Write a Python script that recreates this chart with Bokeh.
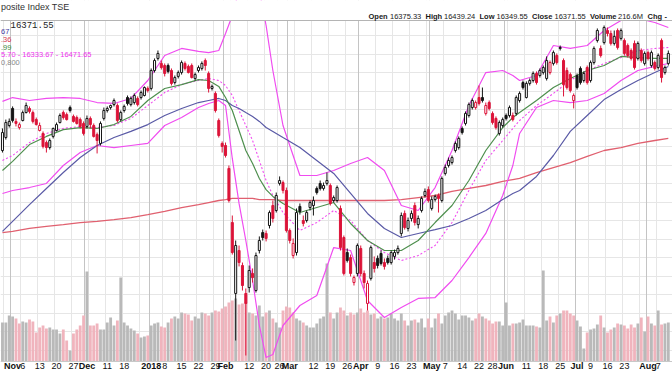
import pandas as pd
from bokeh.plotting import figure
from bokeh.models import Range1d, FixedTicker, Grid, Label, BoxAnnotation, Span
from bokeh.embed import file_html
from bokeh.resources import INLINE

# ---------------- calendar (TSX trading days) ----------------
holidays = ["2017-12-25", "2017-12-26", "2018-01-01", "2018-02-19",
            "2018-03-30", "2018-05-21", "2018-07-02", "2018-08-06"]
trading_days = [d.strftime("%Y-%m-%d") for d in pd.bdate_range("2017-10-27", "2018-08-10")
                if d.strftime("%Y-%m-%d") not in holidays]

# ---------------- daily OHLC ----------------
opens = [
    15880, 15950, 16015,
    16107, 16037, 16004, 16042, 16085, 16107, 16085, 16047, 15988, 15972, 15923, 15896, 15956, 15988, 16031, 16085, 16074, 16112, 16064, 16058, 16047, 16026,
    16010, 16053, 16015, 15966, 15918, 16053, 16096, 16112, 16128, 16123, 16047, 16096, 16166, 16128, 16139, 16161, 16166, 16177, 16215,
    16215, 16312, 16377, 16350, 16339, 16339, 16312, 16247, 16280, 16301, 16350, 16334, 16339, 16269, 16312, 16323, 16366, 16296, 16215, 16188, 16042, 15918,
    15907, 15783, 15491, 15108, 15340, 15259, 15108, 15140, 15216, 15124, 15340, 15437, 15432, 15475, 15583, 15556, 15702, 15707, 15664,
    15448, 15313, 15329, 15578, 15502, 15502, 15572, 15583, 15675, 15702, 15675, 15702, 15691, 15610, 15610, 15567, 15410, 15329, 15302, 15167, 15216,
    15351, 15216, 15054, 15189, 15275, 15297, 15324, 15275, 15297, 15275, 15308, 15329, 15432, 15540, 15459, 15513, 15583, 15480, 15556, 15637, 15669,
    15567, 15615, 15637, 15610, 15756, 15799, 15815, 15880, 15896, 15999, 16026, 16069, 16112, 16112, 16166, 16166, 16080, 16139, 16080, 16053, 15972, 16015,
    16069, 16069, 16069, 16080, 16150, 16247, 16166, 16242, 16258, 16296, 16285, 16301, 16269, 16301, 16350, 16393, 16436, 16366, 16312, 16290, 16150,
    16285, 16323, 16258, 16328, 16258, 16355, 16474, 16431, 16463, 16528, 16512, 16458, 16528, 16485, 16474, 16447, 16420, 16458, 16377, 16420, 16350,
    16409, 16339, 16355, 16328, 16474, 16301, 16350]
highs = [
    15999, 16047, 16053,
    16118, 16053, 16031, 16096, 16139, 16118, 16096, 16058, 16031, 15983, 15934, 15945, 16004, 16031, 16080, 16096, 16085, 16123, 16074, 16069, 16058, 16037,
    16069, 16064, 16026, 15977, 16037, 16112, 16118, 16128, 16161, 16134, 16096, 16128, 16177, 16172, 16188, 16172, 16204, 16226, 16226,
    16323, 16377, 16420, 16366, 16350, 16350, 16323, 16285, 16312, 16366, 16361, 16344, 16350, 16301, 16339, 16361, 16377, 16307, 16236, 16199, 16053, 15929,
    15923, 15799, 15529, 15394, 15367, 15275, 15135, 15259, 15243, 15329, 15416, 15453, 15448, 15556, 15610, 15653, 15740, 15718, 15680,
    15459, 15405, 15567, 15594, 15529, 15556, 15610, 15632, 15686, 15718, 15707, 15761, 15702, 15637, 15691, 15583, 15421, 15351, 15318, 15205, 15378,
    15367, 15232, 15178, 15367, 15308, 15313, 15340, 15297, 15313, 15340, 15345, 15367, 15545, 15556, 15518, 15556, 15599, 15529, 15632, 15675, 15686,
    15632, 15642, 15648, 15740, 15804, 15842, 15853, 15929, 15956, 16010, 16091, 16139, 16161, 16150, 16231, 16220, 16139, 16150, 16091, 16064, 16042, 16058,
    16080, 16123, 16085, 16177, 16199, 16258, 16253, 16269, 16307, 16307, 16323, 16339, 16388, 16366, 16420, 16404, 16447, 16377, 16328, 16301, 16188,
    16296, 16334, 16307, 16339, 16366, 16442, 16539, 16447, 16555, 16544, 16528, 16528, 16539, 16539, 16485, 16458, 16431, 16474, 16469, 16431, 16415,
    16420, 16420, 16366, 16404, 16485, 16339, 16420]
lows = [
    15869, 15939, 16004,
    16031, 16010, 15993, 16037, 16080, 16080, 16026, 16015, 15983, 15891, 15869, 15885, 15945, 15983, 16026, 16047, 16042, 16085, 16031, 16020, 15999, 15961,
    15999, 15999, 15950, 15864, 15907, 16042, 16085, 16101, 16118, 16031, 16037, 16085, 16123, 16118, 16128, 16118, 16155, 16172, 16193,
    16204, 16301, 16366, 16317, 16280, 16296, 16231, 16236, 16269, 16290, 16312, 16296, 16269, 16258, 16301, 16312, 16312, 16193, 16204, 16085, 15950, 15869,
    15842, 15599, 15318, 14854, 15254, 15124, 14773, 15113, 15167, 15113, 15324, 15394, 15389, 15459, 15491, 15545, 15691, 15648, 15437,
    15378, 15297, 15313, 15534, 15470, 15491, 15556, 15529, 15642, 15664, 15664, 15691, 15583, 15599, 15599, 15340, 15205, 15275, 15200, 15151, 15200,
    15200, 15135, 15016, 15178, 15221, 15243, 15259, 15237, 15264, 15264, 15291, 15318, 15416, 15453, 15443, 15497, 15475, 15459, 15545, 15626, 15599,
    15556, 15604, 15545, 15599, 15745, 15788, 15804, 15869, 15885, 15966, 16015, 16058, 16101, 16101, 16123, 16139, 16069, 16096, 16020, 15993, 15961, 16004,
    16042, 16058, 16037, 16069, 16139, 16209, 16161, 16231, 16247, 16236, 16274, 16290, 16258, 16290, 16339, 16344, 16420, 16172, 16209, 16193, 16107,
    16209, 16236, 16247, 16236, 16247, 16344, 16463, 16382, 16452, 16496, 16447, 16447, 16425, 16474, 16393, 16382, 16366, 16317, 16366, 16355, 16339,
    16366, 16328, 16312, 16317, 16247, 16290, 16339]
closes = [
    15977, 16031, 16037,
    16042, 16026, 16020, 16085, 16123, 16091, 16037, 16020, 16015, 15902, 15896, 15934, 15999, 16020, 16069, 16058, 16047, 16096, 16037, 16026, 16010, 15972,
    16053, 16020, 15956, 15934, 16026, 16096, 16107, 16123, 16150, 16042, 16085, 16118, 16134, 16161, 16177, 16128, 16193, 16220, 16204,
    16312, 16366, 16404, 16328, 16296, 16307, 16242, 16274, 16301, 16355, 16323, 16301, 16274, 16290, 16328, 16350, 16339, 16215, 16226, 16096, 15961, 15902,
    15853, 15610, 15329, 15367, 15275, 15151, 15054, 15232, 15194, 15313, 15394, 15410, 15405, 15545, 15513, 15637, 15718, 15664, 15448,
    15394, 15378, 15545, 15551, 15486, 15545, 15599, 15610, 15653, 15675, 15691, 15718, 15594, 15626, 15680, 15356, 15216, 15286, 15216, 15194, 15367,
    15216, 15167, 15162, 15356, 15243, 15259, 15270, 15254, 15275, 15329, 15329, 15351, 15529, 15464, 15502, 15540, 15491, 15513, 15621, 15659, 15610,
    15615, 15632, 15621, 15729, 15788, 15826, 15842, 15918, 15945, 15977, 16080, 16128, 16150, 16139, 16134, 16150, 16123, 16107, 16031, 16004, 16031, 16047,
    16053, 16112, 16047, 16166, 16188, 16220, 16242, 16258, 16296, 16247, 16312, 16328, 16366, 16355, 16409, 16355, 16431, 16236, 16220, 16204, 16177,
    16220, 16247, 16296, 16247, 16355, 16431, 16528, 16393, 16544, 16512, 16458, 16496, 16436, 16528, 16404, 16393, 16377, 16328, 16458, 16366, 16404,
    16377, 16409, 16323, 16393, 16274, 16328, 16404]
volume_m = [
    195, 195, 230,
    225, 215, 190, 200, 195, 210, 200, 145, 170, 180, 165, 170, 160, 160, 140, 160, 105, 55, 140, 160, 180, 230,
    450, 180, 180, 190, 160, 160, 195, 220, 180, 205, 420, 195, 180, 165, 155, 140, 120, 125, 130,
    180, 190, 195, 175, 170, 195, 215, 225, 215, 245, 240, 235, 205, 225, 215, 245, 240, 230, 245, 255, 250, 265,
    275, 295, 305, 315, 285, 290, 295, 245, 240, 230, 280, 225, 245, 255, 215, 195, 170, 255, 275,
    270, 245, 215, 205, 195, 180, 170, 170, 190, 215, 225, 490, 245, 215, 245, 270, 255, 230, 245, 235, 245,
    265, 245, 255, 235, 240, 215, 225, 215, 220, 240, 215, 205, 240, 205, 180, 205, 210, 195, 215, 170, 215,
    170, 215, 240, 190, 230, 245, 255, 240, 210, 230, 230, 220, 205, 215, 240, 225, 215, 205, 190, 200, 200, 180,
    295, 180, 190, 190, 195, 210, 180, 180, 180, 175, 170, 455, 205, 225, 195, 230, 240, 255, 255, 240, 230,
    205, 175, 65, 145, 160, 165, 185, 230, 170, 145, 160, 170, 190, 185, 180, 165, 185, 170, 190, 220, 150,
    225, 190, 180, 255, 185, 190, 195]

# ---------------- overlay indicators (at these dates) ----------------
sample_dates = [
    "2017-10-27",
    "2017-11-01", "2017-11-08", "2017-11-15", "2017-11-22", "2017-11-29", "2017-12-06", "2017-12-13", "2017-12-20",
    "2017-12-29", "2018-01-08", "2018-01-15", "2018-01-22", "2018-01-25", "2018-01-30", "2018-02-01", "2018-02-05",
    "2018-02-07", "2018-02-09", "2018-02-13", "2018-02-15", "2018-02-20", "2018-02-22", "2018-02-27", "2018-03-06",
    "2018-03-13", "2018-03-20", "2018-03-27", "2018-04-04", "2018-04-11", "2018-04-18", "2018-04-25", "2018-05-02",
    "2018-05-09", "2018-05-16", "2018-05-24", "2018-05-31", "2018-06-05", "2018-06-07", "2018-06-14", "2018-06-21",
    "2018-06-28", "2018-07-06", "2018-07-13", "2018-07-20", "2018-07-27", "2018-08-03", "2018-08-10"]
ma200 = [15437,
         15443, 15459, 15470, 15480, 15491, 15497, 15507, 15518, 15534, 15551, 15572, 15588, 15599, 15610, 15615, 15621,
         15621, 15621, 15621, 15615, 15615, 15615, 15610, 15610, 15610, 15610, 15610, 15610, 15610, 15615, 15626, 15637,
         15659, 15675, 15691, 15713, 15723, 15729, 15761, 15788, 15815, 15848, 15880, 15896, 15918, 15934, 15945]
ma50 = [15443,
        15497, 15588, 15675, 15761, 15842, 15907, 15950, 15983, 16020, 16069, 16107, 16139, 16150, 16161, 16150, 16123,
        16107, 16085, 16064, 16037, 16004, 15983, 15950, 15896, 15826, 15756, 15648, 15540, 15459, 15410, 15432, 15453,
        15475, 15513, 15556, 15615, 15648, 15664, 15740, 15853, 15983, 16069, 16155, 16209, 16258, 16301, 16334]
ema20 = [15772,
         15821, 15912, 15956, 15993, 16004, 15999, 16020, 16064, 16150, 16215, 16236, 16263, 16258, 16226, 16166, 16096,
         15988, 15880, 15810, 15729, 15669, 15632, 15594, 15545, 15572, 15599, 15486, 15394, 15340, 15340, 15394, 15491,
         15583, 15718, 15880, 16004, 16058, 16085, 16150, 16220, 16269, 16312, 16339, 16388, 16382, 16377, 16377]
bb_mid = [15826,
          15853, 15923, 15972, 15999, 16010, 16004, 16015, 16053, 16123, 16193, 16236, 16258, 16269, 16258, 16231, 16177,
          16096, 16015, 15934, 15826, 15718, 15637, 15545, 15448, 15491, 15556, 15502, 15394, 15329, 15286, 15313, 15367,
          15491, 15664, 15826, 15934, 15999, 16042, 16123, 16188, 16258, 16312, 16350, 16382, 16420, 16431, 16436]
bb_upper = [16145,
            16166, 16150, 16161, 16166, 16161, 16139, 16134, 16161, 16258, 16393, 16431, 16415, 16409, 16420, 16512, 16609,
            16744, 16852, 16879, 16744, 16555, 16312, 16015, 15745, 15745, 15772, 15810, 15842, 15772, 15583, 15556, 15680,
            15880, 16123, 16301, 16312, 16285, 16258, 16285, 16447, 16431, 16447, 16528, 16582, 16593, 16571, 16544]
bb_lower = [15648,
            15664, 15680, 15702, 15799, 15869, 15907, 15896, 15907, 15918, 16015, 16058, 16112, 16134, 16150, 16123, 15837,
            15594, 15394, 15178, 14935, 14762, 14778, 14935, 15043, 15097, 15356, 15340, 15070, 14978, 15032, 15081, 15086,
            15178, 15302, 15432, 15637, 15799, 15972, 16112, 16150, 16139, 16150, 16188, 16258, 16312, 16334, 16350]

# ---------------- x-axis labels ----------------
tick_labels = [
    ("2017-11-01", "Nov"), ("2017-11-06", "6"), ("2017-11-13", "13"), ("2017-11-20", "20"), ("2017-11-27", "27"),
    ("2017-12-01", "Dec"), ("2017-12-11", "11"), ("2017-12-18", "18"),
    ("2018-01-02", "2018"), ("2018-01-08", "8"), ("2018-01-15", "15"), ("2018-01-22", "22"), ("2018-01-29", "29"),
    ("2018-02-01", "Feb"), ("2018-02-12", "12"), ("2018-02-20", "20"), ("2018-02-26", "26"),
    ("2018-03-01", "Mar"), ("2018-03-12", "12"), ("2018-03-19", "19"), ("2018-03-26", "26"),
    ("2018-04-02", "Apr"), ("2018-04-09", "9"), ("2018-04-16", "16"), ("2018-04-23", "23"),
    ("2018-05-01", "May"), ("2018-05-07", "7"), ("2018-05-14", "14"), ("2018-05-22", "22"), ("2018-05-28", "28"),
    ("2018-06-01", "Jun"), ("2018-06-11", "11"), ("2018-06-18", "18"), ("2018-06-25", "25"),
    ("2018-07-03", "Jul"), ("2018-07-09", "9"), ("2018-07-16", "16"), ("2018-07-23", "23"),
    ("2018-08-01", "Aug"), ("2018-08-07", "7")]

# ---------------- derived positions ----------------
pos = {d: i for i, d in enumerate(trading_days)}
n = len(trading_days)
xs = list(range(n))
sample_x = [pos[d] for d in sample_dates]

ts = pd.to_datetime(trading_days)
week_starts, month_starts = [], []
for i in range(1, n):
    if ts[i].isocalendar()[1] != ts[i - 1].isocalendar()[1]:
        week_starts.append(i)
    if ts[i].month != ts[i - 1].month:
        month_starts.append(i)

up = [closes[i] >= (closes[i - 1] if i > 0 else opens[i]) for i in range(n)]
RED = "#dc1439"
BLK = "#151515"
ccol = [BLK if u else RED for u in up]
body_top = [max(o, c) for o, c in zip(opens, closes)]
body_bot = [min(o, c) for o, c in zip(opens, closes)]
body_fill = ["#ffffff" if c > o else cc for o, c, cc in zip(opens, closes, ccol)]
vcol = ["#b9b9b9" if u else "#f0b4bd" for u in up]

# ---------------- figure (plot frame = whole 672x372 canvas) ----------------
W, H = 672, 372
PLOT_TOP, PLOT_BOT = 20, 361          # page rows of the chart panel
PX_PER_DAY, X0 = 3.38, 1.96           # horizontal scale
PTS_PER_PX, P0 = 5.4, 16690.0         # price scale (price at page row 0)
VOL_PER_PX = 5.0                      # million shares per pixel

p = figure(width=W, height=H,
           x_range=Range1d((0 - X0) / PX_PER_DAY, (W - X0) / PX_PER_DAY),
           y_range=Range1d(P0 - PTS_PER_PX * H, P0),
           output_backend="svg", toolbar_location=None,
           x_axis_location=None, y_axis_location=None,
           min_border=0, min_border_left=0, min_border_right=0, min_border_top=0, min_border_bottom=0)
p.background_fill_color = "white"
p.border_fill_color = "white"
p.outline_line_color = None
p.xgrid.visible = False
p.ygrid.visible = False

p.add_layout(Grid(dimension=1, ticker=FixedTicker(ticks=list(range(14800, 16600, 100))),
                  grid_line_color="#e6e6e6", grid_line_width=1))
p.add_layout(Grid(dimension=0, ticker=FixedTicker(ticks=[w - 0.6 for w in week_starts]),
                  grid_line_color="#e6e6e6", grid_line_width=1))
p.add_layout(Grid(dimension=0, ticker=FixedTicker(ticks=[m - 0.6 for m in month_starts]),
                  grid_line_color="#c4c4c4", grid_line_width=1))

# volume (own scale, baseline at the panel bottom)
vol_start = -VOL_PER_PX * (H - PLOT_BOT)
p.extra_y_ranges = {"vol": Range1d(vol_start, vol_start + VOL_PER_PX * H)}
p.vbar(x=xs, width=0.84, top=volume_m, bottom=0, y_range_name="vol",
       fill_color=vcol, line_color=None)

# overlays
p.line(sample_x, ma200, line_color="#e0606f", line_width=1.3)
p.line(sample_x, bb_upper, line_color="#f04cf0", line_width=1.2)
p.line(sample_x, bb_lower, line_color="#f04cf0", line_width=1.2)
p.line(sample_x, bb_mid, line_color="#f04cf0", line_width=1.1, line_dash="2 2")
p.line(sample_x, ma50, line_color="#5a5aa6", line_width=1.2)
p.line(sample_x, ema20, line_color="#4e8f4e", line_width=1.2)

# candles
p.segment(x0=xs, y0=highs, x1=xs, y1=lows, line_color=ccol, line_width=1)
p.vbar(x=xs, width=0.6, top=body_top, bottom=body_bot, fill_color=body_fill,
       line_color=ccol, line_width=1)

# white header strip and date strip (outside the chart panel)
price_top_edge = P0 - PTS_PER_PX * PLOT_TOP
price_bot_edge = P0 - PTS_PER_PX * PLOT_BOT
p.add_layout(BoxAnnotation(bottom=price_top_edge, top=P0 + 500, fill_color="white", fill_alpha=1,
                           line_color=None))
p.add_layout(BoxAnnotation(top=price_bot_edge, bottom=P0 - PTS_PER_PX * H - 500, fill_color="white",
                           fill_alpha=1, line_color=None))
p.add_layout(Span(location=price_top_edge, dimension="width", line_color="#b4b4b4", line_width=1))
p.add_layout(Span(location=price_bot_edge, dimension="width", line_color="#c8c8c8", line_width=1))


def page_label(xp, yp, text, color="#222222", size=8, bold=False, font="Liberation Sans", align="left"):
    p.add_layout(Label(x=xp, y=H - yp, x_units="screen", y_units="screen",
                       text=text, text_color=color, text_font_size=f"{size}px",
                       text_font=font, text_font_style="bold" if bold else "normal",
                       text_align=align, text_baseline="middle"))


# date labels
for d, t in tick_labels:
    is_month = not (t.isdigit() and len(t) <= 2)
    p.add_layout(Label(x=pos[d], y=H - 365.5, x_units="data", y_units="screen", text=t,
                       text_align="center", text_baseline="middle", text_font_size="9px",
                       text_font="Liberation Sans", text_font_style="bold" if is_month else "normal",
                       text_color="#111111"))

# header
page_label(0.5, 6.5, "posite Index TSE", "#333333", 9)
header = [(368, "Open", True), (389.5, "16375.33", False), (425, "High", True), (443.5, "16439.24", False),
          (479, "Low", True), (496, "16349.55", False), (531.5, "Close", True), (554, "16371.55", False),
          (589.5, "Volume", True), (617.5, "216.6M", False), (647, "Chg", True), (664, "-", True)]
for xp, t, b in header:
    page_label(xp, 15.5, t, "#1a1a1a", 7.5, b)

# legend rows (left edge)
page_label(10, 24.5, "16371.55", "#222222", 9, False, "Liberation Mono")
page_label(0.5, 31, "67", "#4040a0", 7.5)
page_label(0.5, 38.5, ".36", "#d83a50", 7.5)
page_label(0.5, 46.5, ".99", "#3f8a3f", 7.5)
page_label(0.5, 54, "5.70 - 16333.67 - 16471.65", "#ee33ee", 7.5)
page_label(0.5, 61.5, "0,800", "#888888", 7.5)

open("out.html", "w").write(file_html(p, INLINE, "TSX"))
